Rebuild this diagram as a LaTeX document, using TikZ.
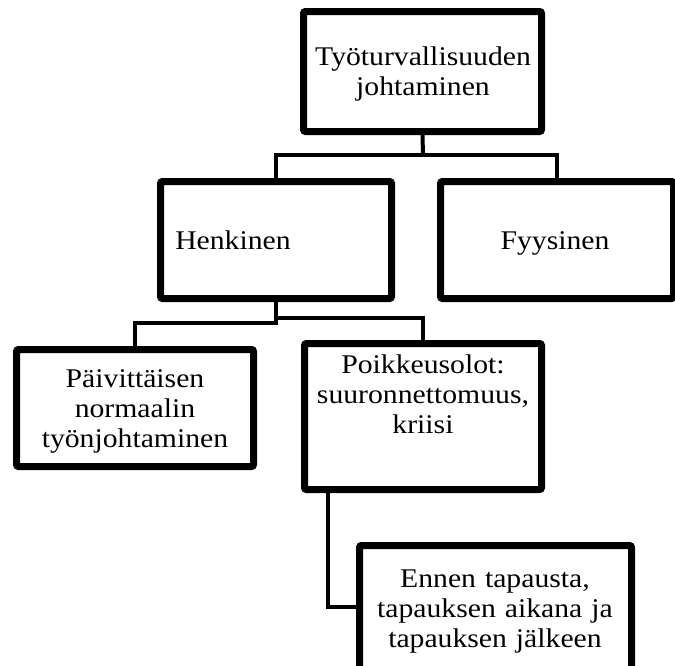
\documentclass[tikz,border=0pt]{standalone}
\usepackage{fontspec}
\setmainfont{Liberation Serif}[FakeStretch=1.1]
\usetikzlibrary{fit,shadows}
\begin{document}
\begin{tikzpicture}[x=0.75pt,y=-0.75pt,
  box/.style={draw=black, line width=5.25pt, fill=white, rounded corners=1.5pt, inner sep=0pt,
    drop shadow={shadow xshift=0.8pt, shadow yshift=-1.4pt, opacity=0.22}},
  boxtext/.style={font=\fontsize{20.25}{22.5}\selectfont, inner sep=0pt, anchor=base,
    text width=#1, align=center},
  plaintext/.style={font=\fontsize{20.25}{22.5}\selectfont, inner sep=0pt},
  conn/.style={draw=black, line width=3pt}
]
\clip (0,0) rectangle (675,665);
\fill[white] (0,0) rectangle (675,665);

% junction points of the connectors
\coordinate (bus1) at (423,155);
\coordinate (hbusL) at (276,323);
\coordinate (hbusR) at (276,318);
\coordinate (ej) at (328,607);

% boxes
\node[box, fit={(303.5,11.5) (541.5,131.5)}] (root) {};
\node[box, fit={(160.5,181.5) (391.5,298.5)}] (henk) {};
\node[box, fit={(440.5,181.5) (673.5,298.5)}] (fyys) {};
\node[box, fit={(16.5,349.5) (253.5,466.5)}] (daily) {};
\node[box, fit={(304.5,343.5) (541.5,489.5)}] (exc) {};
\node[box, fit={(359.5,545.5) (631.5,700)}] (ennen) {};

% connectors
\draw[conn] (root.south) -- (bus1);
\draw[conn] (henk.north) |- (bus1) -| (fyys.north);
\draw[conn] (henk.south) -- (hbusL) -| (daily.north);
\draw[conn] (henk.south) -- (hbusR) -| (exc.north);
\draw[conn] (exc.south -| ej) -- (ej) -- (ej -| ennen.west);

% texts
\node[boxtext=175pt] (troot) at (423,65) {Työturvallisuuden\\johtaminen};
\node[plaintext, anchor=base west] (thenk) at (175,249) {Henkinen};
\node[plaintext, anchor=base] (tfyys) at (555,249) {Fyysinen};
\node[boxtext=175pt] (tdaily) at (135,387) {Päivittäisen\\normaalin\\työnjohtaminen};
\node[boxtext=175pt] (texc) at (423,373) {Poikkeusolot:\\suuronnettomuus,\\kriisi};
\node[boxtext=200pt] (tennen) at (495,587) {Ennen tapausta,\\tapauksen aikana ja\\tapauksen jälkeen};
\end{tikzpicture}
\end{document}
